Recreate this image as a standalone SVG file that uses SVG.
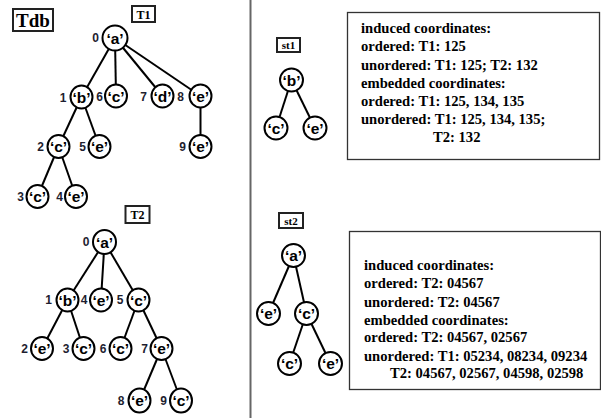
<svg xmlns="http://www.w3.org/2000/svg" width="601" height="418" viewBox="0 0 601 418">
  <style>
    .edge { stroke: #000; stroke-width: 2; fill: none; }
    .node ellipse { fill: #fff; stroke: #000; stroke-width: 2; }
    .lbl { font-family: "Liberation Sans", Arial, sans-serif; font-weight: bold; font-size: 15.5px; text-anchor: middle; fill: #000; }
    .idx { font-family: "Liberation Sans", Arial, sans-serif; font-weight: bold; font-size: 12px; text-anchor: middle; fill: #1e1e30; }
    .tag rect { fill: #fff; stroke: #222; stroke-width: 2; }
    .tag text { font-family: "Liberation Serif", "Times New Roman", serif; font-weight: bold; text-anchor: middle; fill: #000; }
    .info rect { fill: #fff; stroke: #333; stroke-width: 1.3; }
    .info text { font-family: "Liberation Serif", "Times New Roman", serif; font-weight: bold; font-size: 14.6px; fill: #000; }
  </style>

  <rect x="0" y="0" width="601" height="418" fill="#fff"/>

  <!-- divider between the database and the subtrees -->
  <line x1="250.5" y1="0" x2="250.5" y2="418" stroke="#666" stroke-width="2"/>

  <!-- titles -->
  <g id="title-tdb" class="tag">
    <rect x="13" y="9" width="40" height="22" stroke-width="2.5"/>
    <text x="33" y="27" font-size="19">Tdb</text>
  </g>
  <g id="title-t1" class="tag">
    <rect x="132" y="6" width="23" height="16"/>
    <text x="143.5" y="18.5" font-size="12">T1</text>
  </g>
  <g id="title-t2" class="tag">
    <rect x="125.5" y="206" width="24" height="17"/>
    <text x="137.5" y="219" font-size="12">T2</text>
  </g>
  <g id="title-st1" class="tag">
    <rect x="277" y="38" width="23" height="14"/>
    <text x="288.5" y="49" font-size="11">st1</text>
  </g>
  <g id="title-st2" class="tag">
    <rect x="279" y="213" width="24" height="15"/>
    <text x="291" y="224.5" font-size="11">st2</text>
  </g>

  <!-- connectors -->
  <g id="connectors">
    <!-- T1 -->
    <line class="edge" x1="115" y1="38" x2="81.5" y2="97"/>
    <line class="edge" x1="115" y1="38" x2="116" y2="96"/>
    <line class="edge" x1="115" y1="38" x2="162.5" y2="96"/>
    <line class="edge" x1="115" y1="38" x2="200.5" y2="96"/>
    <line class="edge" x1="81.5" y1="97" x2="58.5" y2="146.5"/>
    <line class="edge" x1="81.5" y1="97" x2="99.5" y2="146.5"/>
    <line class="edge" x1="200.5" y1="96" x2="200.5" y2="146.5"/>
    <line class="edge" x1="58.5" y1="146.5" x2="37.5" y2="196.5"/>
    <line class="edge" x1="58.5" y1="146.5" x2="76" y2="196.5"/>
    <!-- T2 -->
    <line class="edge" x1="104.5" y1="242" x2="67.5" y2="300"/>
    <line class="edge" x1="104.5" y1="242" x2="101" y2="300"/>
    <line class="edge" x1="104.5" y1="242" x2="138.5" y2="300"/>
    <line class="edge" x1="67.5" y1="300" x2="42" y2="348.5"/>
    <line class="edge" x1="67.5" y1="300" x2="83.5" y2="348.5"/>
    <line class="edge" x1="138.5" y1="300" x2="120.5" y2="348.5"/>
    <line class="edge" x1="138.5" y1="300" x2="161.5" y2="348.5"/>
    <line class="edge" x1="161.5" y1="348.5" x2="139.5" y2="400.5"/>
    <line class="edge" x1="161.5" y1="348.5" x2="181" y2="400.5"/>
    <!-- st1 -->
    <line class="edge" x1="291.5" y1="80" x2="276" y2="128"/>
    <line class="edge" x1="291.5" y1="80" x2="315" y2="128"/>
    <!-- st2 -->
    <line class="edge" x1="293.5" y1="255.5" x2="268.5" y2="313.5"/>
    <line class="edge" x1="293.5" y1="255.5" x2="306.5" y2="313.5"/>
    <line class="edge" x1="306.5" y1="313.5" x2="289.5" y2="363.5"/>
    <line class="edge" x1="306.5" y1="313.5" x2="330.5" y2="363.5"/>
  </g>

  <!-- T1 nodes -->
  <g id="t1-n0" class="node"><ellipse cx="115" cy="38" rx="12.5" ry="12.5"/><text class="lbl" x="115" y="43.5">‘a’</text><text class="idx" x="95.5" y="42">0</text></g>
  <g id="t1-n1" class="node"><ellipse cx="81.5" cy="97" rx="11" ry="11.5"/><text class="lbl" x="81.5" y="102.5">‘b’</text><text class="idx" x="63" y="102">1</text></g>
  <g id="t1-n6" class="node"><ellipse cx="116" cy="96" rx="11" ry="11.5"/><text class="lbl" x="116" y="101.5">‘c’</text><text class="idx" x="99.5" y="101">6</text></g>
  <g id="t1-n7" class="node"><ellipse cx="162.5" cy="96" rx="11" ry="11.5"/><text class="lbl" x="162.5" y="101.5">‘d’</text><text class="idx" x="143.5" y="101">7</text></g>
  <g id="t1-n8" class="node"><ellipse cx="200.5" cy="96" rx="11" ry="11.5"/><text class="lbl" x="200.5" y="101.5">‘e’</text><text class="idx" x="180.5" y="101">8</text></g>
  <g id="t1-n2" class="node"><ellipse cx="58.5" cy="146.5" rx="11" ry="11.5"/><text class="lbl" x="58.5" y="152">‘c’</text><text class="idx" x="40.5" y="151">2</text></g>
  <g id="t1-n5" class="node"><ellipse cx="99.5" cy="146.5" rx="11" ry="11.5"/><text class="lbl" x="99.5" y="152">‘e’</text><text class="idx" x="82.5" y="151">5</text></g>
  <g id="t1-n9" class="node"><ellipse cx="200.5" cy="146.5" rx="11" ry="11.5"/><text class="lbl" x="200.5" y="152">‘e’</text><text class="idx" x="182.5" y="151">9</text></g>
  <g id="t1-n3" class="node"><ellipse cx="37.5" cy="196.5" rx="11" ry="11.5"/><text class="lbl" x="37.5" y="202">‘c’</text><text class="idx" x="20.5" y="201">3</text></g>
  <g id="t1-n4" class="node"><ellipse cx="76" cy="196.5" rx="11" ry="11.5"/><text class="lbl" x="76" y="202">‘e’</text><text class="idx" x="59.5" y="201">4</text></g>

  <!-- T2 nodes -->
  <g id="t2-n0" class="node"><ellipse cx="104.5" cy="242" rx="11.5" ry="12"/><text class="lbl" x="104.5" y="247.5">‘a’</text><text class="idx" x="86" y="246">0</text></g>
  <g id="t2-n1" class="node"><ellipse cx="67.5" cy="300" rx="11" ry="11.5"/><text class="lbl" x="67.5" y="305.5">‘b’</text><text class="idx" x="48.5" y="304">1</text></g>
  <g id="t2-n4" class="node"><ellipse cx="101" cy="300" rx="11" ry="11.5"/><text class="lbl" x="101" y="305.5">‘e’</text><text class="idx" x="84" y="304">4</text></g>
  <g id="t2-n5" class="node"><ellipse cx="138.5" cy="300" rx="11" ry="11.5"/><text class="lbl" x="138.5" y="305.5">‘c’</text><text class="idx" x="120" y="304">5</text></g>
  <g id="t2-n2" class="node"><ellipse cx="42" cy="348.5" rx="11" ry="11.5"/><text class="lbl" x="42" y="354">‘e’</text><text class="idx" x="24.5" y="352.5">2</text></g>
  <g id="t2-n3" class="node"><ellipse cx="83.5" cy="348.5" rx="11" ry="11.5"/><text class="lbl" x="83.5" y="354">‘c’</text><text class="idx" x="66" y="352.5">3</text></g>
  <g id="t2-n6" class="node"><ellipse cx="120.5" cy="348.5" rx="11" ry="11.5"/><text class="lbl" x="120.5" y="354">‘c’</text><text class="idx" x="103" y="352.5">6</text></g>
  <g id="t2-n7" class="node"><ellipse cx="161.5" cy="348.5" rx="11" ry="11.5"/><text class="lbl" x="161.5" y="354">‘e’</text><text class="idx" x="144.5" y="352.5">7</text></g>
  <g id="t2-n8" class="node"><ellipse cx="139.5" cy="400.5" rx="11" ry="12"/><text class="lbl" x="139.5" y="406">‘e’</text><text class="idx" x="121" y="404.5">8</text></g>
  <g id="t2-n9" class="node"><ellipse cx="181" cy="400.5" rx="11" ry="12"/><text class="lbl" x="181" y="406">‘c’</text><text class="idx" x="163.5" y="404.5">9</text></g>

  <!-- st1 nodes -->
  <g id="st1-b" class="node"><ellipse cx="291.5" cy="80" rx="11.5" ry="11.5"/><text class="lbl" x="291.5" y="85.5">‘b’</text></g>
  <g id="st1-c" class="node"><ellipse cx="276" cy="128" rx="11.5" ry="11.5"/><text class="lbl" x="276" y="133.5">‘c’</text></g>
  <g id="st1-e" class="node"><ellipse cx="315" cy="128" rx="11.5" ry="11.5"/><text class="lbl" x="315" y="133.5">‘e’</text></g>

  <!-- st2 nodes -->
  <g id="st2-a" class="node"><ellipse cx="293.5" cy="255.5" rx="11.5" ry="11.5"/><text class="lbl" x="293.5" y="261">‘a’</text></g>
  <g id="st2-e" class="node"><ellipse cx="268.5" cy="313.5" rx="11.5" ry="11.5"/><text class="lbl" x="268.5" y="319">‘e’</text></g>
  <g id="st2-c" class="node"><ellipse cx="306.5" cy="313.5" rx="11.5" ry="11.5"/><text class="lbl" x="306.5" y="319">‘c’</text></g>
  <g id="st2-c2" class="node"><ellipse cx="289.5" cy="363.5" rx="11.5" ry="11.5"/><text class="lbl" x="289.5" y="369">‘c’</text></g>
  <g id="st2-e2" class="node"><ellipse cx="330.5" cy="363.5" rx="11.5" ry="11.5"/><text class="lbl" x="330.5" y="369">‘e’</text></g>

  <!-- occurrence coordinates for st1 -->
  <g id="info-st1" class="info">
    <rect x="347.5" y="12.5" width="252" height="147"/>
    <text x="361" y="33">induced coordinates:</text>
    <text x="361" y="51">ordered: T1: 125</text>
    <text x="361" y="69.5">unordered: T1: 125; T2: 132</text>
    <text x="361" y="87.5">embedded coordinates:</text>
    <text x="361" y="105.5">ordered: T1: 125, 134, 135</text>
    <text x="361" y="123.5">unordered: T1: 125, 134, 135;</text>
    <text x="433" y="141.5">T2: 132</text>
  </g>

  <!-- occurrence coordinates for st2 -->
  <g id="info-st2" class="info">
    <rect x="349.5" y="231.5" width="251" height="158"/>
    <text x="364" y="270">induced coordinates:</text>
    <text x="364" y="288">ordered: T2: 04567</text>
    <text x="364" y="306.5">unordered: T2: 04567</text>
    <text x="364" y="324.5">embedded coordinates:</text>
    <text x="364" y="342">ordered: T2: 04567, 02567</text>
    <text x="364" y="360.5">unordered: T1: 05234, 08234, 09234</text>
    <text x="390" y="378">T2: 04567, 02567, 04598, 02598</text>
  </g>
</svg>
